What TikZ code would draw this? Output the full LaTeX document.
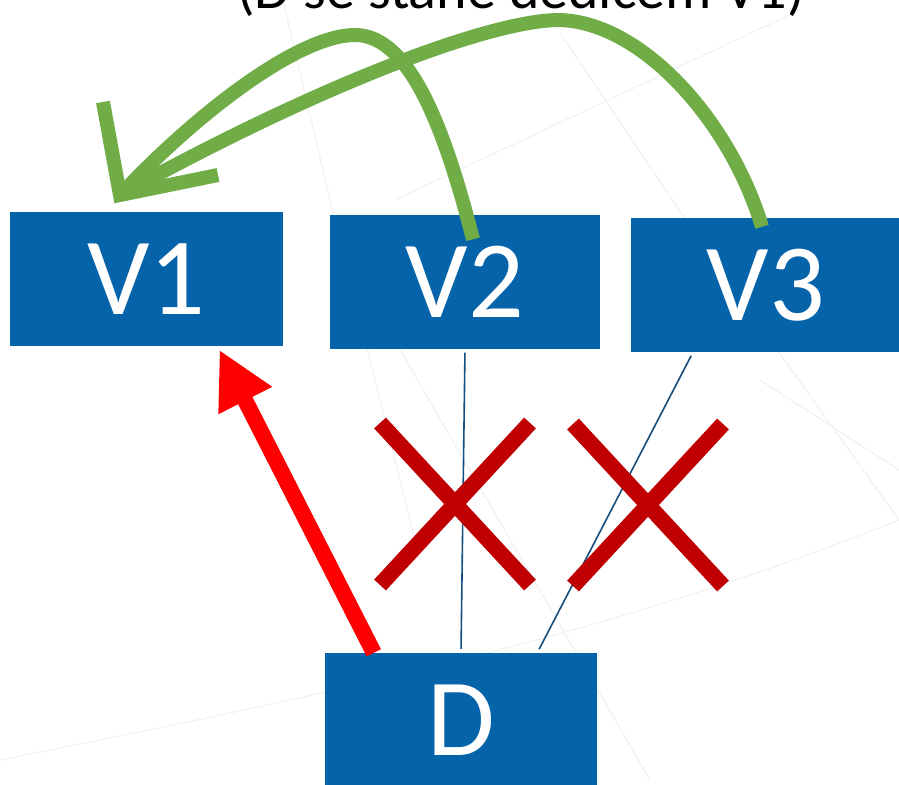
\documentclass[tikz,border=0pt]{standalone}
\usepackage{fontspec}
\setmainfont{Carlito}
\usepackage{xcolor}
\usepackage{tikz}
\usetikzlibrary{calc,arrows.meta}

\definecolor{boxblue}{RGB}{5,99,170}
\definecolor{arcgreen}{RGB}{112,173,71}
\definecolor{crossred}{RGB}{192,0,0}
\definecolor{linkblue}{RGB}{22,78,125}

\begin{document}
\begin{tikzpicture}[x=1pt,y=-1pt,
    vbox/.style={rectangle, fill=boxblue, text=white, inner sep=0pt,
      minimum width=271pt, minimum height=134pt,
      font=\fontsize{110}{110}\selectfont},
    grid/.style={draw=gray!12, line width=1pt},
    arc/.style={draw=arcgreen, line width=14pt, line cap=butt},
    cross/.style={draw=crossred, line width=16pt},
    link/.style={draw=linkblue, line width=1.6pt, shorten <=4pt, shorten >=4pt}]
      \useasboundingbox (0,0) rectangle (899,784);
      \clip (0,0) rectangle (899,784);
      \fill[white] (0,0) rectangle (899,784);
      \draw[grid] (395,200) -- (800,10);
      \draw[grid] (560,33) -- (713,260) -- (899,520);
      \draw[grid] (283,0) -- (330,200) -- (420,560);
      \draw[grid] (0,760) .. controls (300,700) and (600,640) .. (899,520);
      \draw[grid] (400,350) -- (650,780);
      \draw[grid] (760,380) -- (899,470);
      \node [anchor=base, font=\fontsize{58}{58}\selectfont] (title) at (521,9) {(D se stane dědicem V1)};
      \node [vbox, minimum width=273pt] (V1) at (146.5,279) {V1};
      \node [vbox, minimum width=270pt] (V2) at (465,281.5) {V2};
      \node [vbox, minimum width=270pt] (V3) at (766,285) {V3};
      \node [vbox, minimum width=272pt] (D) at (461,720) {D};
      \draw[link] (V2.south) -- (D.north);
      \draw[link] ($(V3.south west)!0.23!(V3.south east)$) -- ($(D.north west)!0.78!(D.north east)$);
      \coordinate (x1) at (455,504);
      \coordinate (x2) at (648,505);
      \draw[cross] ($(x1)+(-75,-81)$) -- ($(x1)+(75,81)$);
      \draw[cross] ($(x1)+(75,-81)$) -- ($(x1)+(-75,81)$);
      \draw[cross] ($(x2)+(-75,-81)$) -- ($(x2)+(75,81)$);
      \draw[cross] ($(x2)+(75,-81)$) -- ($(x2)+(-75,81)$);
      \draw[red, line width=16pt, -{Triangle[length=57pt,width=56pt]}, shorten >=4pt]
        ($(D.north west)!0.18!(D.north east)$) -- ($(V1.south west)!0.76!(V1.south east)$);
      \coordinate (tip) at (120,195);
      \coordinate (barbl) at (103,102);
      \coordinate (barbr) at (218,175);
      \draw[arc] ($(V3.north)+(-4,9)$) .. controls (730,120) and (640,20) .. (557,20)
        .. controls (480,22) and (300,95) .. (tip);
      \draw[arc] ($(V2.north)+(8,25)$) .. controls (445,130) and (410,35) .. (355,35)
        .. controls (300,35) and (200,110) .. (tip);
      \draw[arc] (barbl) -- (tip) -- (barbr);
\end{tikzpicture}
\end{document}
